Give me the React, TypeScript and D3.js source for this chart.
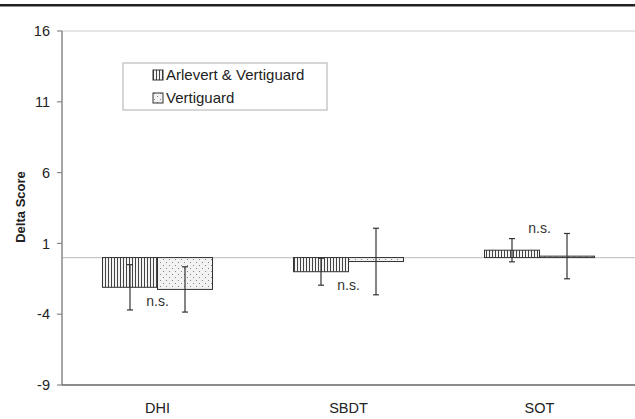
import * as d3 from "d3";

const categories = ["DHI", "SBDT", "SOT"];
const seriesNames = ["Arlevert & Vertiguard", "Vertiguard"];
const combined = [-2.1, -1.0, 0.52];
const combinedErr = [1.6, 0.95, 0.82];
const vertiguard = [-2.25, -0.28, 0.1];
const vertiguardErr = [1.6, 2.35, 1.6];
const yTicks = [-9, -4, 1, 6, 11, 16];
const nsLabels = [
  { cat: "DHI", y: -3.45 },
  { cat: "SBDT", y: -2.3 },
  { cat: "SOT", y: 1.7 },
];

const W = 635;
const H = 419;
const left = 62;
const right = 635;
const top = 31;
const bottom = 385;

const App = () => {
  const y = d3.scaleLinear().domain([-9, 16]).range([bottom, top]);
  const x = d3
    .scaleBand<string>()
    .domain(categories)
    .range([left, right])
    .paddingInner(0.424)
    .paddingOuter(0.212);
  const sub = d3.scaleBand<number>().domain([0, 1]).range([0, x.bandwidth()]);

  const series = [
    { values: combined, err: combinedErr, fill: "url(#vlines)" },
    { values: vertiguard, err: vertiguardErr, fill: "url(#dots)" },
  ];

  const font = "Arial, 'Liberation Sans', sans-serif";

  return (
    <svg
      width={W}
      height={H}
      style={{ position: "absolute", left: 0, top: 0, background: "#fff" }}
      fontFamily={font}
    >
      <defs>
        <pattern id="vlines" width={3} height={3} patternUnits="userSpaceOnUse">
          <rect width={3} height={3} fill="#f4f4f4" />
          <rect x={0} width={1} height={3} fill="#444" />
        </pattern>
        <pattern id="dots" width={6} height={6} patternUnits="userSpaceOnUse">
          <rect width={6} height={6} fill="#f2f2f2" />
          <rect x={1} y={1} width={1} height={1} fill="#888" />
          <rect x={4} y={4} width={1} height={1} fill="#888" />
        </pattern>
      </defs>

      {/* top rule */}
      <rect x={0} y={4} width={W} height={2.5} fill="#222" />

      {/* top gridline and zero line */}
      <line x1={left} x2={right} y1={y(16)} y2={y(16)} stroke="#ccc" strokeWidth={1.2} />
      <line x1={left} x2={right} y1={y(0)} y2={y(0)} stroke="#c8c8c8" strokeWidth={1.2} />

      {/* bars */}
      {series.map((s, si) =>
        categories.map((c, ci) => {
          const v = s.values[ci];
          const x0 = (x(c) ?? 0) + (sub(si) ?? 0);
          const y0 = Math.min(y(v), y(0));
          const h = Math.max(Math.abs(y(v) - y(0)), 0.8);
          return (
            <rect
              key={`b${si}-${ci}`}
              x={x0}
              y={y0}
              width={sub.bandwidth()}
              height={h}
              fill={s.fill}
              stroke="#333"
              strokeWidth={1}
            />
          );
        })
      )}

      {/* error bars */}
      {series.map((s, si) =>
        categories.map((c, ci) => {
          const cx = (x(c) ?? 0) + (sub(si) ?? 0) + sub.bandwidth() / 2;
          const v = s.values[ci];
          const e = s.err[ci];
          return (
            <g key={`e${si}-${ci}`} stroke="#333" strokeWidth={1.2}>
              <line x1={cx} x2={cx} y1={y(v + e)} y2={y(v - e)} />
              <line x1={cx - 3} x2={cx + 3} y1={y(v + e)} y2={y(v + e)} />
              <line x1={cx - 3} x2={cx + 3} y1={y(v - e)} y2={y(v - e)} />
            </g>
          );
        })
      )}

      {/* n.s. labels */}
      {nsLabels.map((n) => (
        <text
          key={n.cat}
          x={(x(n.cat) ?? 0) + x.bandwidth() / 2}
          y={y(n.y)}
          textAnchor="middle"
          fontSize={14}
          fill="#333"
        >
          n.s.
        </text>
      ))}

      {/* y axis */}
      <line x1={left} x2={left} y1={top} y2={bottom} stroke="#888" strokeWidth={1.5} />
      {yTicks.map((t) => (
        <g key={t}>
          <line x1={left - 5} x2={left} y1={y(t)} y2={y(t)} stroke="#888" strokeWidth={1.2} />
          <text x={left - 12} y={y(t)} dy="0.36em" textAnchor="end" fontSize={14.5} fill="#222">
            {t}
          </text>
        </g>
      ))}
      <text
        transform="translate(25, 207) rotate(-90)"
        textAnchor="middle"
        fontSize={13}
        fontWeight="bold"
        fill="#222"
      >
        Delta Score
      </text>

      {/* x axis */}
      <line x1={left} x2={right} y1={bottom} y2={bottom} stroke="#666" strokeWidth={1.5} />
      {categories.map((c) => (
        <text
          key={c}
          x={(x(c) ?? 0) + x.bandwidth() / 2}
          y={413}
          textAnchor="middle"
          fontSize={14.5}
          fill="#222"
        >
          {c}
        </text>
      ))}

      {/* legend */}
      <rect x={123} y={63} width={204} height={47} fill="#fff" stroke="#bbb" strokeWidth={1.2} />
      {seriesNames.map((name, i) => (
        <g key={name} transform={`translate(153, ${75 + i * 23})`}>
          <rect x={0} y={-5} width={10} height={10} fill={series[i].fill} stroke="#333" strokeWidth={1} />
          <text x={13} y={0} dy="0.36em" fontSize={15} fill="#222">
            {name}
          </text>
        </g>
      ))}
    </svg>
  );
};

export default App;
